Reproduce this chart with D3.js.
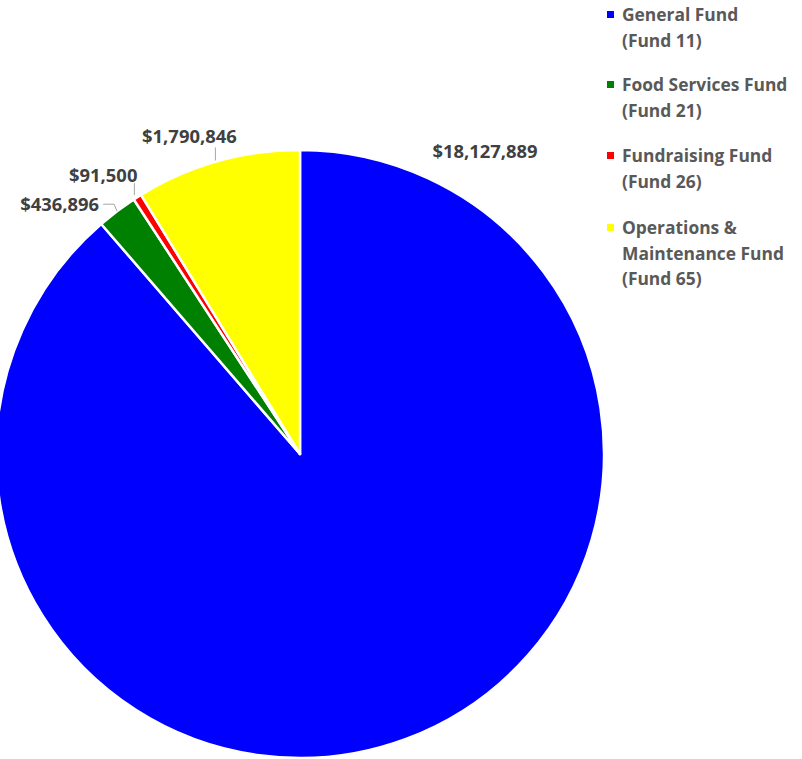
<!DOCTYPE html>
<html>
<head>
<meta charset="utf-8">
<script src="https://cdn.jsdelivr.net/npm/d3@7"></script>
<style>
  html, body { margin: 0; padding: 0; background: #fff; }
  svg { display: block; }
  text { font-family: "Open Sans", "DejaVu Sans", sans-serif; font-weight: 700; }
</style>
</head>
<body>
<svg id="chart" width="802" height="759"></svg>
<script>
// Fund budgets
const funds = ["General Fund", "Food Services Fund", "Fundraising Fund", "Operations & Maintenance Fund"];
const fundCodes = ["(Fund 11)", "(Fund 21)", "(Fund 26)", "(Fund 65)"];
const amounts = [18127889, 436896, 91500, 1790846];
const colors = ["#0000FF", "#008000", "#FF0000", "#FFFF00"];
// legend text lines per fund
const legendLines = [
  ["General Fund", "(Fund 11)"],
  ["Food Services Fund", "(Fund 21)"],
  ["Fundraising Fund", "(Fund 26)"],
  ["Operations &", "Maintenance Fund", "(Fund 65)"]
];

const svg = d3.select("#chart");
const cx = 300, cy = 454, R = 304;

const pie = d3.pie().sort(null).value(d => d)(amounts);
const arc = d3.arc().innerRadius(0).outerRadius(R);

const g = svg.append("g").attr("transform", `translate(${cx},${cy})`);
g.selectAll("path.slice")
  .data(pie)
  .join("path")
  .attr("class", "slice")
  .attr("d", arc)
  .attr("fill", (d, i) => colors[i])
  .attr("stroke", "#fff")
  .attr("stroke-width", 2.5)
  .attr("stroke-linejoin", "round");

const fmt = d3.format("$,.0f");

// point on the rim at a slice's mid angle
const rim = d => {
  const a = (d.startAngle + d.endAngle) / 2;
  return [R * Math.sin(a), -R * Math.cos(a)];
};

// label placement: leader path (relative to rim point) and text anchor
const labelLayout = [
  { text: [185, -302], anchor: "middle", leader: null, absolute: true },
  { leader: [[0, 0], [-3, -7], [-14, -7]], text: [-18, -7], anchor: "end" },
  { leader: [[-3, -2], [-3, -14]], text: [0, -22], anchor: "end" },
  { leader: [[-2, -1], [-2, -14]], text: [-28, -25], anchor: "middle" }
];

const labels = g.append("g");
pie.forEach((d, i) => {
  const L = labelLayout[i];
  const p = L.absolute ? [0, 0] : rim(d);
  if (L.leader) {
    labels.append("path")
      .attr("d", d3.line()(L.leader.map(q => [p[0] + q[0], p[1] + q[1]])))
      .attr("fill", "none")
      .attr("stroke", "#a6a6a6")
      .attr("stroke-width", 1);
  }
  labels.append("text")
    .attr("x", p[0] + L.text[0])
    .attr("y", p[1] + L.text[1])
    .attr("dy", "0.35em")
    .attr("text-anchor", L.anchor)
    .attr("fill", "#404040")
    .attr("font-size", 18.4)
    .text(fmt(amounts[i]));
});

// legend
const legend = svg.append("g").attr("transform", "translate(607,0)");
const entryY = [15, 85, 156, 228];
const lineH = 25.5;
legendLines.forEach((lines, i) => {
  const e = legend.append("g").attr("transform", `translate(0,${entryY[i]})`);
  e.append("rect")
    .attr("x", 0).attr("y", -4)
    .attr("width", 7).attr("height", 7)
    .attr("fill", colors[i]);
  lines.forEach((t, k) => {
    e.append("text")
      .attr("x", 15)
      .attr("y", k * lineH)
      .attr("dy", "0.35em")
      .attr("fill", "#595959")
      .attr("font-size", 17.4)
      .text(t);
  });
});
</script>
</body>
</html>
